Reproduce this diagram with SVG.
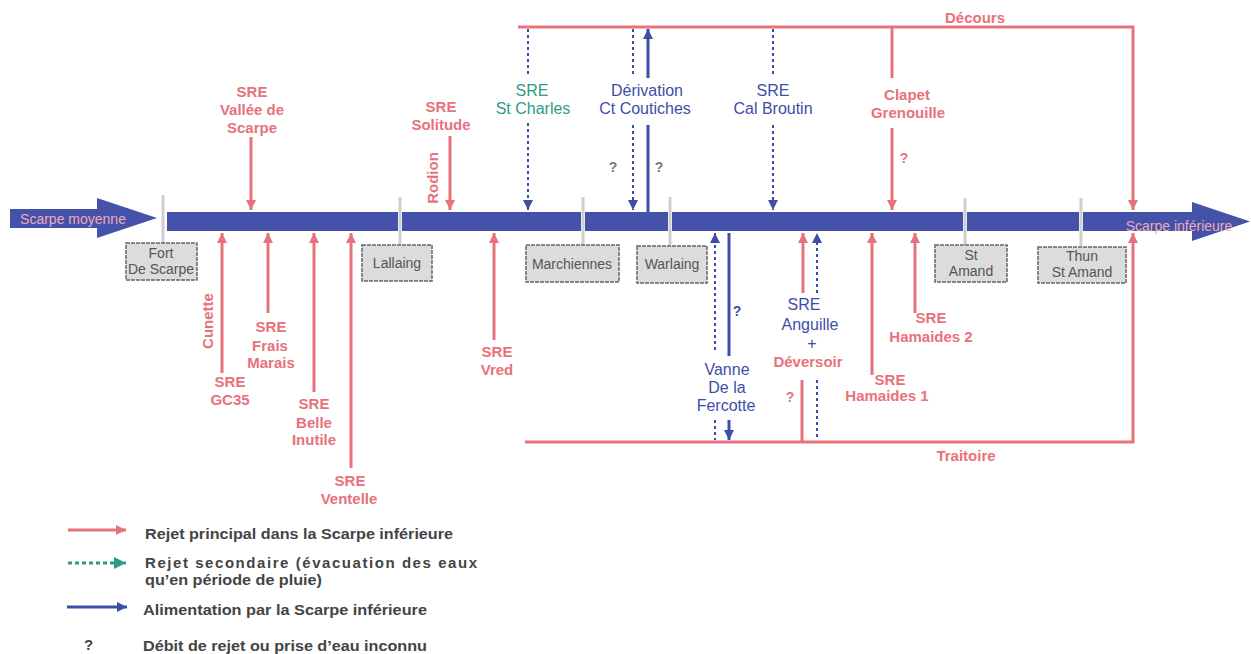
<svg xmlns="http://www.w3.org/2000/svg" width="1251" height="654" viewBox="0 0 1251 654">
<style>
text{font-family:"Liberation Sans",Arial,sans-serif;text-anchor:middle}
.r{fill:#e8727b;font-weight:bold;font-size:15px}
.b{fill:#3d4ea6;font-size:16px}
.t{fill:#2f9a86;font-size:16px}
.g{fill:#555;font-size:14px}
.q{font-size:14px;font-weight:bold}
.lg{fill:#444;font-weight:bold;font-size:15px;text-anchor:start}
.st rect{fill:#dcdcdc;stroke:#666;stroke-width:1.5;stroke-dasharray:4 1}
.rl{stroke:#e8727b;stroke-width:3;fill:none}
.bl{stroke:#3d4ea6;stroke-width:3;fill:none}
.bd{stroke:#3d4ea6;stroke-width:2;stroke-dasharray:3 3;fill:none}
.td{stroke:#2f9a86;stroke-width:3;stroke-dasharray:4 3;fill:none}
.tick{stroke:#cfcfcf;stroke-width:3}
.river{fill:#4453a9}
</style>
<defs>
<marker id="ar" markerUnits="userSpaceOnUse" markerWidth="12" markerHeight="12" refX="10" refY="5" orient="auto"><path d="M0,0 L10,5 L0,10 Z" fill="#e8727b"/></marker>
<marker id="ab" markerUnits="userSpaceOnUse" markerWidth="12" markerHeight="12" refX="10" refY="5" orient="auto"><path d="M0,0 L10,5 L0,10 Z" fill="#3d4ea6"/></marker>
<marker id="at" markerUnits="userSpaceOnUse" markerWidth="14" markerHeight="14" refX="12" refY="6" orient="auto"><path d="M0,0 L12,6 L0,12 Z" fill="#2f9a86"/></marker>
</defs>

<!-- river -->
<g id="river">
<polygon class="river" points="10,209 97,209 97,198 157,218 97,238 97,228 10,228"/>
<text x="73" y="224" style="fill:#f0a8b8;font-size:14px">Scarpe moyenne</text>
<rect class="river" x="167" y="212" width="231" height="19"/>
<rect class="river" x="402" y="212" width="179" height="19"/>
<rect class="river" x="585" y="212" width="83" height="19"/>
<rect class="river" x="672" y="212" width="291" height="19"/>
<rect class="river" x="967" y="212" width="112" height="19"/>
<polygon class="river" points="1083,212 1192,212 1192,202 1250,221.5 1192,241 1192,231 1083,231"/>
<text x="1179" y="231" style="fill:#f0a8b8;font-size:14px">Scarpe inférieure</text>
<line class="tick" x1="163" y1="195" x2="163" y2="244"/>
<line class="tick" x1="400" y1="197" x2="400" y2="246"/>
<line class="tick" x1="583" y1="197" x2="583" y2="246"/>
<line class="tick" x1="670" y1="197" x2="670" y2="246"/>
<line class="tick" x1="965" y1="198" x2="965" y2="246"/>
<line class="tick" x1="1081" y1="198" x2="1081" y2="246"/>
</g>

<!-- stations -->
<g id="fort-de-scarpe" class="st"><rect x="126" y="243" width="71" height="37"/><text class="g" x="161" y="258">Fort</text><text class="g" x="161" y="274">De Scarpe</text></g>
<g id="lallaing" class="st"><rect x="362" y="245" width="70" height="36"/><text class="g" x="397" y="268">Lallaing</text></g>
<g id="marchiennes" class="st"><rect x="526" y="245" width="93" height="37"/><text class="g" x="572" y="269">Marchiennes</text></g>
<g id="warlaing" class="st"><rect x="637" y="246" width="70" height="37"/><text class="g" x="672" y="269">Warlaing</text></g>
<g id="st-amand" class="st"><rect x="935" y="245" width="72" height="37"/><text class="g" x="971" y="260">St</text><text class="g" x="971" y="276">Amand</text></g>
<g id="thun-st-amand" class="st"><rect x="1038" y="247" width="88" height="36"/><text class="g" x="1082" y="261">Thun</text><text class="g" x="1082" y="277">St Amand</text></g>

<!-- connectors -->
<g id="connectors">
<polyline class="rl" points="518,27 1133,27 1133,210" marker-end="url(#ar)"/>
<polyline class="rl" points="525,442 1133,442 1133,233" marker-end="url(#ar)"/>
<line class="rl" x1="251" y1="137" x2="251" y2="210" marker-end="url(#ar)"/>
<line class="rl" x1="450" y1="136" x2="450" y2="210" marker-end="url(#ar)"/>
<line class="rl" x1="892" y1="27" x2="892" y2="78"/>
<line class="rl" x1="892" y1="128" x2="892" y2="210" marker-end="url(#ar)"/>
<line class="rl" x1="222" y1="373" x2="222" y2="233" marker-end="url(#ar)"/>
<line class="rl" x1="268" y1="313" x2="268" y2="233" marker-end="url(#ar)"/>
<line class="rl" x1="314" y1="392" x2="314" y2="233" marker-end="url(#ar)"/>
<line class="rl" x1="351" y1="468" x2="351" y2="233" marker-end="url(#ar)"/>
<line class="rl" x1="494" y1="340" x2="494" y2="233" marker-end="url(#ar)"/>
<line class="rl" x1="803" y1="293" x2="803" y2="233" marker-end="url(#ar)"/>
<line class="rl" x1="802" y1="380" x2="802" y2="442"/>
<line class="rl" x1="872" y1="375" x2="872" y2="233" marker-end="url(#ar)"/>
<line class="rl" x1="915" y1="313" x2="915" y2="233" marker-end="url(#ar)"/>
<line class="bd" x1="528" y1="29" x2="528" y2="74"/>
<line class="bd" x1="528" y1="123" x2="528" y2="210" marker-end="url(#ab)"/>
<line class="bd" x1="633" y1="29" x2="633" y2="75"/>
<line class="bd" x1="633" y1="125" x2="633" y2="210" marker-end="url(#ab)"/>
<line class="bd" x1="773" y1="29" x2="773" y2="75"/>
<line class="bd" x1="773" y1="125" x2="773" y2="210" marker-end="url(#ab)"/>
<line class="bd" x1="715" y1="350" x2="715" y2="233" marker-end="url(#ab)"/>
<line class="bd" x1="715" y1="420" x2="715" y2="440"/>
<line class="bd" x1="817" y1="293" x2="817" y2="233" marker-end="url(#ab)"/>
<line class="bd" x1="817" y1="380" x2="817" y2="440"/>
<line class="bl" x1="648" y1="212" x2="648" y2="125"/>
<line class="bl" x1="648" y1="78" x2="648" y2="29" marker-end="url(#ab)"/>
<line class="bl" x1="729" y1="233" x2="729" y2="356"/>
<line class="bl" x1="729" y1="420" x2="729" y2="440" marker-end="url(#ab)"/>
</g>

<!-- labels / nodes -->
<g id="decours"><text class="r" x="975" y="23">Décours</text></g>
<g id="traitoire"><text class="r" x="966" y="461">Traitoire</text></g>
<g id="sre-vallee-de-scarpe"><text class="r" x="252" y="97">SRE</text><text class="r" x="252" y="115">Vallée de</text><text class="r" x="252" y="133">Scarpe</text></g>
<g id="sre-solitude"><text class="r" x="441" y="112">SRE</text><text class="r" x="441" y="130">Solitude</text></g>
<g id="rodion"><text class="r" transform="translate(438,178) rotate(-90)">Rodion</text></g>
<g id="cunette"><text class="r" transform="translate(213,321) rotate(-90)">Cunette</text></g>
<g id="sre-st-charles"><text class="t" x="532" y="96">SRE</text><text class="t" x="533" y="114">St Charles</text></g>
<g id="derivation-ct-coutiches"><text class="b" x="647" y="96">Dérivation</text><text class="b" x="645" y="114">Ct Coutiches</text><text class="q" style="fill:#777" x="613" y="172">?</text><text class="q" style="fill:#777" x="659" y="172">?</text></g>
<g id="sre-cal-broutin"><text class="b" x="773" y="96">SRE</text><text class="b" x="773" y="114">Cal Broutin</text></g>
<g id="clapet-grenouille"><text class="r" x="907" y="100">Clapet</text><text class="r" x="908" y="118">Grenouille</text><text class="q" style="fill:#e8727b" x="904" y="163">?</text></g>
<g id="sre-gc35"><text class="r" x="230" y="387">SRE</text><text class="r" x="230" y="405">GC35</text></g>
<g id="sre-frais-marais"><text class="r" x="271" y="332">SRE</text><text class="r" x="270" y="351">Frais</text><text class="r" x="271" y="368">Marais</text></g>
<g id="sre-belle-inutile"><text class="r" x="314" y="409">SRE</text><text class="r" x="314" y="428">Belle</text><text class="r" x="314" y="445">Inutile</text></g>
<g id="sre-ventelle"><text class="r" x="350" y="486">SRE</text><text class="r" x="349" y="504">Ventelle</text></g>
<g id="sre-vred"><text class="r" x="497" y="357">SRE</text><text class="r" x="497" y="375">Vred</text></g>
<g id="vanne-de-la-fercotte"><text class="b" x="727" y="375">Vanne</text><text class="b" x="727" y="393">De la</text><text class="b" x="726" y="411">Fercotte</text><text class="q" style="fill:#3d4ea6" x="737" y="316">?</text></g>
<g id="sre-anguille-deversoir"><text class="b" x="804" y="310">SRE</text><text class="b" x="810" y="330">Anguille</text><text class="b" x="812" y="349">+</text><text class="r" x="808" y="367">Déversoir</text><text class="q" style="fill:#e8727b" x="790" y="402">?</text></g>
<g id="sre-hamaides-1"><text class="r" x="890" y="385">SRE</text><text class="r" x="887" y="401">Hamaides 1</text></g>
<g id="sre-hamaides-2"><text class="r" x="931" y="323">SRE</text><text class="r" x="931" y="342">Hamaides 2</text></g>

<!-- legend -->
<g id="legend">
<line class="rl" x1="68" y1="530" x2="126" y2="530" marker-end="url(#ar)"/>
<text class="lg" x="145" y="539" textLength="308" lengthAdjust="spacingAndGlyphs">Rejet principal dans la Scarpe inférieure</text>
<line class="td" x1="68" y1="563" x2="126" y2="563" marker-end="url(#at)"/>
<text class="lg" x="145" y="568" textLength="332" lengthAdjust="spacing">Rejet secondaire (évacuation des eaux</text>
<text class="lg" x="145" y="585" textLength="177" lengthAdjust="spacingAndGlyphs">qu’en période de pluie)</text>
<line class="bl" x1="67" y1="607" x2="127" y2="607" marker-end="url(#ab)"/>
<text class="lg" x="143" y="615" textLength="284" lengthAdjust="spacingAndGlyphs">Alimentation par la Scarpe inférieure</text>
<text class="lg" x="84" y="650">?</text>
<text class="lg" x="143" y="651" textLength="284" lengthAdjust="spacingAndGlyphs">Débit de rejet ou prise d’eau inconnu</text>
</g>
</svg>
